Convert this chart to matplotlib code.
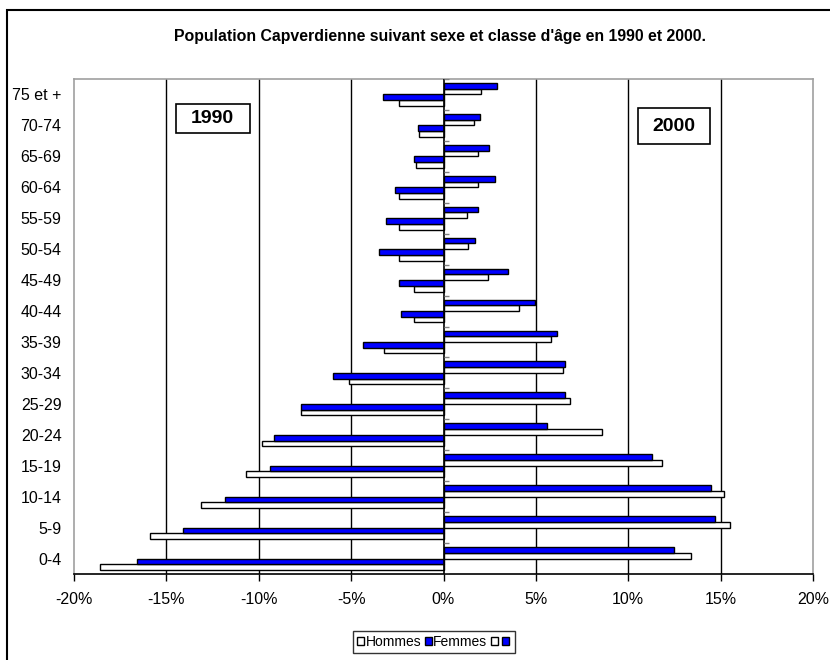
import matplotlib.pyplot as plt
import numpy as np
from matplotlib.patches import Rectangle, Patch
from matplotlib.ticker import FuncFormatter

plt.rcParams['font.family'] = ['Liberation Sans', 'DejaVu Sans']

age_groups = ['0-4', '5-9', '10-14', '15-19', '20-24', '25-29', '30-34', '35-39',
              '40-44', '45-49', '50-54', '55-59', '60-64', '65-69', '70-74', '75 et +']

# share of total population (%), 1990 drawn to the left
hommes_1990 = [18.6, 15.9, 13.1, 10.7, 9.8, 7.7, 5.1, 3.2, 1.6, 1.6, 2.4, 2.4, 2.4, 1.5, 1.3, 2.4]
femmes_1990 = [16.6, 14.1, 11.8, 9.4, 9.2, 7.7, 6.0, 4.35, 2.3, 2.4, 3.5, 3.1, 2.6, 1.6, 1.4, 3.25]
hommes_2000 = [13.4, 15.5, 15.2, 11.8, 8.6, 6.85, 6.45, 5.8, 4.1, 2.4, 1.3, 1.25, 1.85, 1.85, 1.65, 2.05]
femmes_2000 = [12.5, 14.7, 14.5, 11.3, 5.6, 6.6, 6.6, 6.15, 4.95, 3.5, 1.7, 1.85, 2.8, 2.45, 2.0, 2.9]

blue = '#0000ff'
y = np.arange(len(age_groups))
h = 0.185

fig = plt.figure(figsize=(8.3, 6.6), dpi=100)
ax = fig.add_axes([74 / 830, 1 - 574 / 660, (813 - 74) / 830, (574 - 79) / 660])

bar_kw = dict(height=h, edgecolor='black', linewidth=1, zorder=3)
ax.barh(y - 1.5 * h, -np.array(hommes_1990), color='white', **bar_kw)
ax.barh(y - 0.5 * h, -np.array(femmes_1990), color=blue, **bar_kw)
ax.barh(y + 0.5 * h, hommes_2000, color='white', **bar_kw)
ax.barh(y + 1.5 * h, femmes_2000, color=blue, **bar_kw)

ax.set_xlim(-20, 20)
ax.set_ylim(-0.5, len(age_groups) - 0.5)

# vertical gridlines and central axis
for gx in [-15, -10, -5, 5, 10, 15]:
    ax.axvline(gx, color='black', linewidth=1, zorder=1)
ax.axvline(0, color='black', linewidth=1.2, zorder=4)
ax.hlines(np.arange(len(age_groups) + 1) - 0.5, 0, 0.3, color='#808080', linewidth=1, zorder=4)

for side in ['left', 'right', 'top']:
    ax.spines[side].set_color('#a0a0a0')
    ax.spines[side].set_linewidth(1.2)
ax.spines['bottom'].set_color('black')
ax.spines['bottom'].set_linewidth(1.2)

ax.set_xticks(np.arange(-20, 21, 5))
ax.xaxis.set_major_formatter(FuncFormatter(lambda v, p: f'{v:.0f}%'))
ax.tick_params(axis='x', direction='out', length=5, width=1, labelsize=11.5, pad=8)
ax.set_yticks(y)
ax.set_yticklabels(age_groups)
ax.tick_params(axis='y', length=0, labelsize=11.5, pad=9)

# year boxes
ax.add_patch(Rectangle((-14.5, 13.74), 4.0, 0.94, facecolor='white', edgecolor='black',
                       linewidth=1.2, zorder=5))
ax.text(-12.5, 14.21, '1990', fontsize=14, fontweight='bold', ha='center', va='center', zorder=6)
ax.add_patch(Rectangle((10.55, 13.39), 3.85, 1.16, facecolor='white', edgecolor='black',
                       linewidth=1.2, zorder=5))
ax.text(12.47, 13.97, '2000', fontsize=14, fontweight='bold', ha='center', va='center', zorder=6)

fig.text(440 / 830, 1 - 37 / 660, "Population Capverdienne suivant sexe et classe d'âge en 1990 et 2000.",
         ha='center', va='center', fontsize=11.4, fontweight='bold')

handles = [Patch(facecolor='white', edgecolor='black'), Patch(facecolor=blue, edgecolor='black'),
           Patch(facecolor='white', edgecolor='black'), Patch(facecolor=blue, edgecolor='black')]
leg = fig.legend(handles, ['Hommes', 'Femmes', '', ''], ncol=4, loc='center',
                 bbox_to_anchor=(434 / 830, 1 - 642 / 660), fontsize=10, frameon=True,
                 fancybox=False, handlelength=0.5, handleheight=0.5, handletextpad=0.1,
                 columnspacing=0.25, borderpad=0.3, borderaxespad=0)
leg.get_frame().set_edgecolor('black')
leg.get_frame().set_linewidth(1)

# chart area frame
fig.patches.append(Rectangle((7 / 830, -0.1), 1.2, 1 - 10 / 660 + 0.1, transform=fig.transFigure,
                             fill=False, edgecolor='black', linewidth=1.5))

fig.savefig('out.png', dpi=100)
